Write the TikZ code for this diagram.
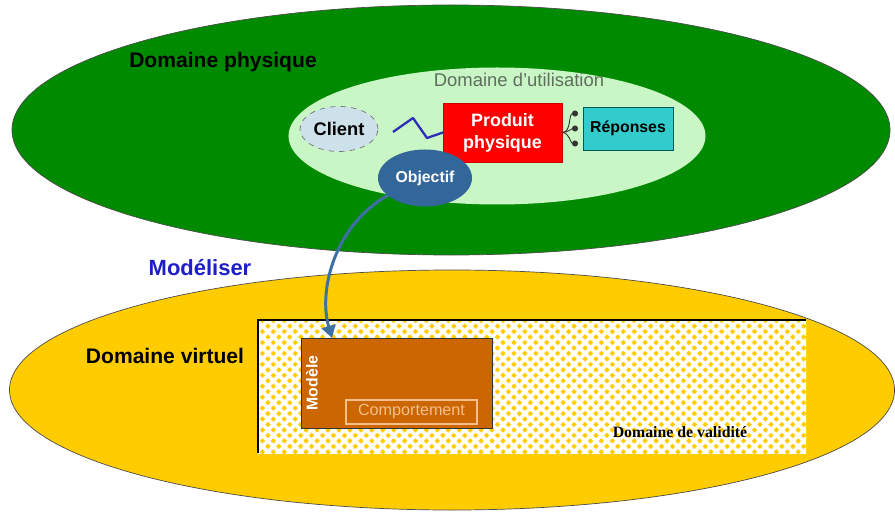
\documentclass[tikz,border=0pt]{standalone}
\usepackage{fontspec}
\setmainfont{Liberation Sans}
\newfontfamily\validfont{Liberation Serif}
\usetikzlibrary{shapes.geometric,patterns.meta,arrows.meta,calc}

\definecolor{physgreen}{RGB}{0,138,0}
\definecolor{usegreen}{RGB}{200,246,196}
\definecolor{clientblue}{RGB}{205,225,235}
\definecolor{repcyan}{RGB}{51,204,204}
\definecolor{objblue}{RGB}{51,102,153}
\definecolor{arrowblue}{RGB}{62,112,165}
\definecolor{wavblue}{RGB}{45,45,185}
\definecolor{modblue}{RGB}{30,30,200}
\definecolor{virtyellow}{RGB}{255,204,0}
\definecolor{modbrown}{RGB}{204,102,0}
\definecolor{compline}{RGB}{245,190,140}
\definecolor{usegray}{RGB}{95,110,95}

\begin{document}
\begin{tikzpicture}[x=0.2mm,y=-0.2mm,
   dom/.style={ellipse, draw=black!70, line width=0.4pt, inner sep=0pt, outer sep=0pt},
   boxnode/.style={rectangle, inner sep=0pt, outer sep=0pt, align=center},
   bigtitle/.style={font=\bfseries\fontsize{12}{14}\selectfont},
   hatch/.style={postaction={pattern={Lines[angle=45,distance=4.4pt,line width=2.1pt]}, pattern color=white},
                 postaction={pattern={Lines[angle=-45,distance=4.4pt,line width=2.1pt]}, pattern color=white}}]
   \useasboundingbox (0,0) rectangle (895,512);

   % physique
   \node[dom, fill=physgreen, minimum width=175.6mm, minimum height=50mm] (phys) at (451,130) {};
   \node[bigtitle] (physlbl) at (223,62) {Domaine physique};
   \node[dom, draw=none, fill=usegreen, minimum width=83.4mm, minimum height=27.4mm] (util) at (497,136) {};
   \node[text=usegray, font=\fontsize{10.5}{12}\selectfont] (utillbl) at (519,80) {Domaine d'utilisation};
   \node[dom, draw=black!55, dashed, fill=clientblue, minimum width=15.6mm, minimum height=9mm,
         font=\bfseries\fontsize{10.4}{12}\selectfont] (client) at (339,129) {Client};
   \node[boxnode, fill=red, draw=red!80!black, minimum width=23.8mm, minimum height=11.8mm, text=white,
         font=\bfseries\fontsize{10.2}{12.5}\selectfont] (prod) at (502.5,132.5) {Produit\\physique};
   \node[boxnode, fill=repcyan, draw={rgb,255:red,0;green,90;blue,90}, minimum width=18mm, minimum height=8.6mm,
         font=\bfseries\fontsize{9}{11}\selectfont] (rep) at (628,128.5) {Réponses};
   \node[dom, draw=none, fill=objblue, minimum width=18.8mm, minimum height=11.4mm, text=white,
         font=\bfseries\fontsize{9}{11}\selectfont] (obj) at (425,178) {Objectif};

   \draw[wavblue, line width=1.3pt, line join=round] ($(client.east)+(15,3)$) -- (413,118) -- (427,138) -- (prod.west);
   \foreach \i/\dy in {1/-15,2/0,3/15} {
     \coordinate (r\i) at ($(rep.west)+(-5,\dy)$);
     \draw[black!80, line width=0.5pt, -{Circle[length=3.4pt]}] (prod.east) to[out=0,in=180] (r\i);
   }

   \node[font=\bfseries\fontsize{12.5}{14}\selectfont, text=modblue] (model) at (200,268) {Modéliser};

   % virtuel
   \node[dom, fill=virtyellow, minimum width=177mm, minimum height=48mm] (virt) at (452,390) {};
   \node[bigtitle] (virtlbl) at (165,356) {Domaine virtuel};
   \node[boxnode, hatch, minimum width=109.6mm, minimum height=26.6mm] (valid) at (532,386.5) {};
   \draw[black, line width=0.8pt] (valid.south west) |- (valid.north east);
   \node[font=\validfont\bfseries\fontsize{9}{11}\selectfont] (validlbl) at (680,432) {Domaine de validité};
   \node[boxnode, fill=modbrown, draw=black!80, minimum width=38.2mm, minimum height=18mm] (mod) at (396.5,383) {};
   \node[rotate=90, text=white, font=\bfseries\fontsize{9}{11}\selectfont] (modlbl) at (312,383) {Modèle};
   \node[boxnode, draw=compline, line width=0.6pt, minimum width=26.2mm, minimum height=4.8mm, text=compline,
         font=\fontsize{9.2}{11}\selectfont] (comp) at (411.5,412) {Comportement};

   \coordinate (tgt) at ($(mod.north west)+(31,0)$);
   \draw[arrowblue, line width=1.7pt, -{Triangle[length=7pt,width=8pt]}]
     (obj.205) .. controls (335,225) and (318,290) .. (tgt);
\end{tikzpicture}
\end{document}
